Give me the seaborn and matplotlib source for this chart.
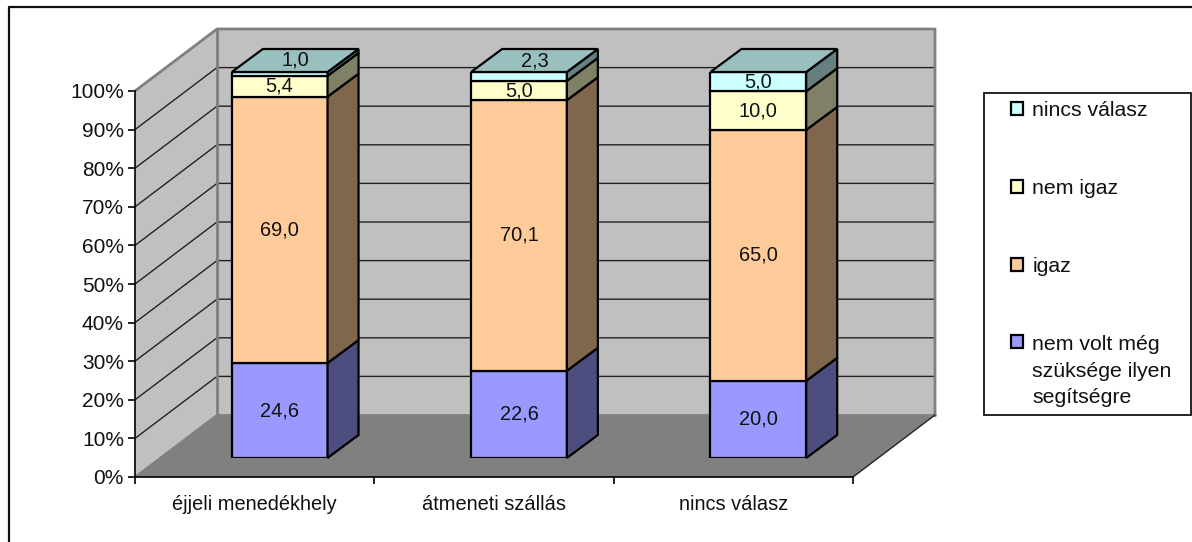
import numpy as np
import matplotlib
matplotlib.use("Agg")
import matplotlib.pyplot as plt
from matplotlib.lines import Line2D
from matplotlib.patches import Patch, Polygon, Rectangle
import seaborn as sns

categories = ["éjjeli menedékhely", "átmeneti szállás", "nincs válasz"]
no_need = [24.6, 22.6, 20.0]
true_vals = [69.0, 70.1, 65.0]
not_true = [5.4, 5.0, 10.0]
no_answer = [1.0, 2.3, 5.0]
series_names = ["nem volt még\nszüksége ilyen\nsegítségre", "igaz", "nem igaz", "nincs válasz"]
series_vals = [no_need, true_vals, not_true, no_answer]
colors = ["#9999FF", "#FFCC99", "#FFFFCC", "#CCFFFF"]
side_colors = ["#4D4D80", "#80664D", "#808066", "#668080"]
top_color = "#99BFBF"

W, H = 1192, 542
FONT = 14.4

sns.set_style("white")
plt.rcParams["font.family"] = ["Liberation Sans", "DejaVu Sans"]

fig = plt.figure(figsize=(W / 100, H / 100), dpi=100)

# front plane of the 3D box carries the real axes
ax = fig.add_axes([135 / W, 1 - 477 / H, 718 / W, 386 / H])
ax.set_xlim(0, 3)
ax.set_ylim(0, 100)
ax.patch.set_alpha(0)
for side in ["top", "right"]:
    ax.spines[side].set_visible(False)
for side in ["left", "bottom"]:
    ax.spines[side].set_color("black")
    ax.spines[side].set_linewidth(1.2)
    ax.spines[side].set_zorder(5)

# depth of the box and of the bars, in data units of the front plane
unit_x = 718 / 3
unit_y = 3.86
depth_x = 82 / unit_x
depth_y = 62 / unit_y
bar_dx = 31 / unit_x
bar_dy = 23 / unit_y

wall = "#C0C0C0"
edge = "#808080"
ax.add_patch(Polygon([(0, 0), (3, 0), (3 + depth_x, depth_y), (depth_x, depth_y)],
                     closed=True, fc="#808080", ec="none", clip_on=False, zorder=1))
ax.add_patch(Polygon([(0, 0), (depth_x, depth_y), (depth_x, 100 + depth_y), (0, 100)],
                     closed=True, fc=wall, ec="none", clip_on=False, zorder=1))
ax.add_patch(Rectangle((depth_x, depth_y), 3, 100, fc=wall, ec="none", clip_on=False, zorder=1))

yticks = np.arange(0, 101, 10)
for y in yticks[1:-1]:
    ax.plot([0, depth_x, 3 + depth_x], [y, y + depth_y, y + depth_y], color="#222222", lw=1,
            clip_on=False, zorder=2)
ax.plot([0, depth_x, 3 + depth_x, 3 + depth_x], [100, 100 + depth_y, 100 + depth_y, depth_y],
        color=edge, lw=2, clip_on=False, zorder=2)
ax.plot([depth_x, depth_x, 3 + depth_x], [100 + depth_y, depth_y, depth_y],
        color=edge, lw=2, clip_on=False, zorder=2)
ax.plot([0, depth_x], [0, depth_y], color=edge, lw=1.5, clip_on=False, zorder=2)
ax.plot([3, 3 + depth_x], [0, depth_y], color="#222222", lw=1, clip_on=False, zorder=2)

ax.set_yticks(yticks)
ax.set_yticklabels([f"{y}%" for y in yticks], fontsize=15, color="#111111")
ax.set_xticks([0, 1, 2, 3])
ax.set_xticklabels([])
ax.set_xticks([0.5, 1.5, 2.5], minor=True)
ax.set_xticklabels(categories, minor=True, fontsize=FONT, color="#111111")
ax.tick_params(axis="both", which="major", length=5, width=1.2, color="black", left=True, bottom=True)
ax.tick_params(axis="y", pad=3)
ax.tick_params(axis="x", which="minor", length=0, pad=13)

# bars stand part of the way into the box
ax_bars = fig.add_axes([(135 + 25) / W, 1 - (477 - 19) / H, 718 / W, 386 / H])
ax_bars.patch.set_alpha(0)
bottoms = np.zeros(3)
for vals, col, side_col in zip(series_vals, colors, side_colors):
    sns.barplot(x=categories, y=vals, bottom=bottoms, color=col, saturation=1, width=0.4,
                edgecolor="black", linewidth=1.6, ax=ax_bars, zorder=3)
    for rect in ax_bars.containers[-1]:
        right = rect.get_x() + rect.get_width()
        y0, y1 = rect.get_y(), rect.get_y() + rect.get_height()
        ax_bars.add_patch(Polygon([(right, y0), (right + bar_dx, y0 + bar_dy),
                                   (right + bar_dx, y1 + bar_dy), (right, y1)],
                                  closed=True, fc=side_col, ec="black", lw=1.6,
                                  clip_on=False, zorder=3))
    bottoms = bottoms + np.array(vals)

for rect in ax_bars.containers[-1]:
    x0, x1 = rect.get_x(), rect.get_x() + rect.get_width()
    y1 = rect.get_y() + rect.get_height()
    ax_bars.add_patch(Polygon([(x0, y1), (x1, y1), (x1 + bar_dx, y1 + bar_dy), (x0 + bar_dx, y1 + bar_dy)],
                              closed=True, fc=top_color, ec="black", lw=1.6, clip_on=False, zorder=3))

# value labels, thin slices go up on the lid of the bar
for container, vals in zip(ax_bars.containers, series_vals):
    for rect, v in zip(container, vals):
        x = rect.get_x() + rect.get_width() / 2
        y = rect.get_y() + rect.get_height() / 2
        if v < 3:
            x += bar_dx / 2
            y = rect.get_y() + rect.get_height() + bar_dy / 2
        ax_bars.text(x, y, f"{v:.1f}".replace(".", ","), ha="center", va="center",
                     fontsize=FONT, color="#111111", zorder=6, clip_on=False)

ax_bars.set_xlim(-0.5, 2.5)
ax_bars.set_ylim(0, 100)
ax_bars.axis("off")

# legend box
fig.add_artist(Rectangle((984 / W, 1 - 415 / H), 207 / W, 322 / H, transform=fig.transFigure,
                         fc="white", ec="black", lw=1.2))
handles = [Patch(fc=c, ec="black", lw=1.6) for c in colors[::-1]]
leg = fig.legend(handles, series_names[::-1], loc="upper left",
                 bbox_to_anchor=(1011 / W, 1 - 101 / H), frameon=False, borderpad=0,
                 borderaxespad=0, prop={"size": 15.3}, handlelength=0.56, handleheight=0.56,
                 handletextpad=0.45, labelspacing=2.78, labelcolor="#111111")
leg.get_texts()[-1].set_linespacing(1.5)
# swatch sits by the first line of the long label
leg._legend_handle_box.get_children()[0].get_children()[-1].align = "top"

# outer chart border, cut off by the image on the right and bottom
fig.add_artist(Line2D([9 / W, 9 / W, 1], [0, 1 - 7 / H, 1 - 7 / H], transform=fig.transFigure,
                      color="#111111", lw=1.6))

fig.savefig("out.png", dpi=100, facecolor="white")
